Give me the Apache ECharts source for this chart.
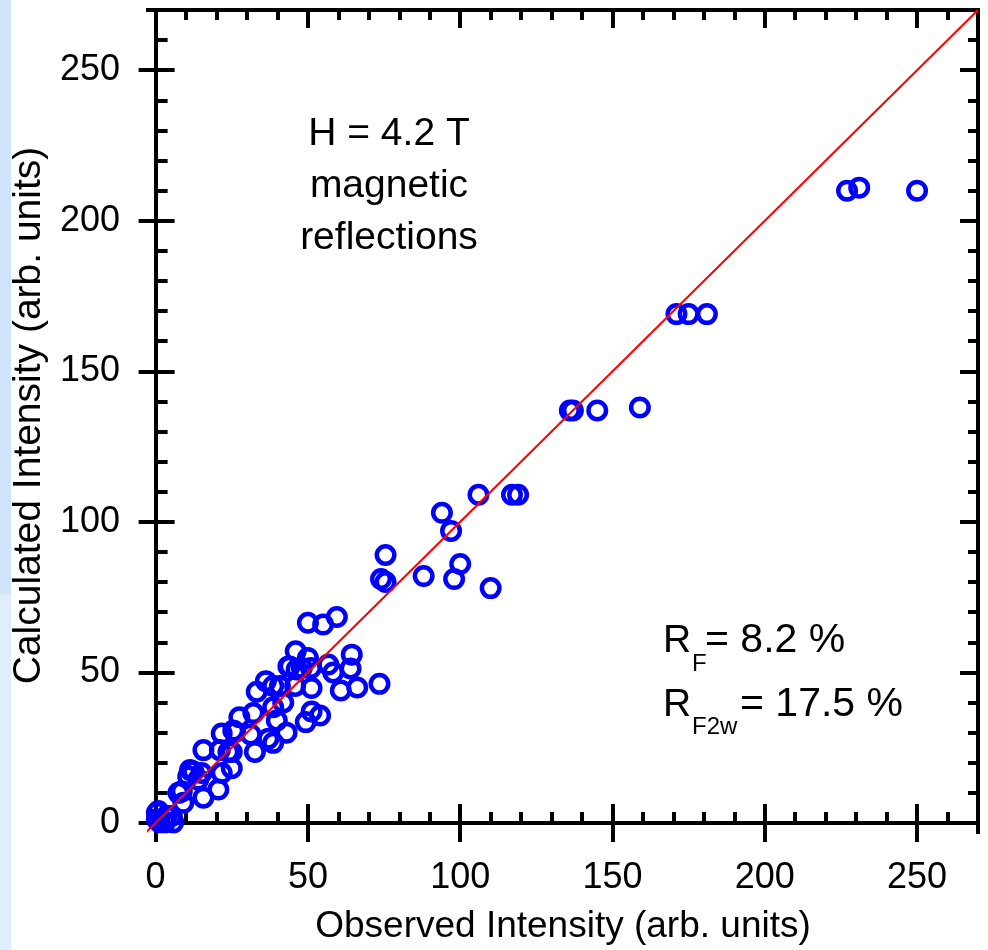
<!DOCTYPE html>
<html>
<head>
<meta charset="utf-8">
<script src="https://cdn.jsdelivr.net/npm/echarts@6/dist/echarts.min.js"></script>
<style>html,body{margin:0;padding:0;background:#fff;}#chart{width:988px;height:950px;}</style>
</head>
<body>
<div id="chart"></div>
<script>
// ---- data ----
const observed = [
  250, 231, 227,
  181, 175, 171,
  159, 145, 137, 136,
  119, 117, 106,
  94, 97, 75.5, 100, 88, 98, 74, 75.5, 110,
  59.5, 55, 50,
  46, 64.4, 50, 44, 48, 51, 56.7, 58.3, 64, 43.6, 46.3,
  73.5, 66.2, 60.8, 51.2, 45.8, 40.8, 36.2, 33.2, 38.6,
  41.9, 38.6, 32.1, 39.8, 49.3, 54, 51.2, 43, 37, 31.2, 32.6, 38.6, 27.5, 25.5, 21.7, 26.1,
  15.7, 21.1, 25, 23.9,
  12.4, 14, 21.7, 25, 11.3, 15.1,
  15.7, 20.6, 10.7, 7.5, 9.1, 8.6,
  0.9, 0.4, 5.3, 5.8, 3.1, 1.4, 3.6, 0.4
];
const calculated = [
  210, 211, 210,
  169, 169, 169,
  138, 137, 137, 137,
  109, 109, 109,
  103, 97, 89, 86, 82, 81, 81, 80, 78,
  68.4, 65.9, 66.5,
  57, 55.9, 54.8, 52, 51.5, 51.5, 52.6, 50, 51.3, 52, 51,
  46.2, 45, 44, 44.8, 45.5, 45.5, 47.1, 43.6, 45.5,
  40, 38.4, 36.5, 34, 33.5, 35.7, 37, 30, 28, 29.4, 23.6, 26.6, 35.1, 30.7, 29.7, 30.2,
  24.2, 24.2, 23.6, 23.6,
  17.1, 14.4, 16.6, 18.2, 17.6, 16.6,
  8.4, 11.1, 15.4, 10, 6.7, 10.5,
  4, 1.2, 2.3, 0.2, 0.2, 0.2, 2.3, 3.4
];
const refLine = [-3, 270];               // y = x reference line end values
const majorTicks = [0, 50, 100, 150, 200, 250];
const minorTicks = [10, 20, 30, 40, 60, 70, 80, 90, 110, 120, 130, 140, 160, 170, 180, 190, 210, 220, 230, 240, 260];
const X_RANGE = [-2.5, 270];
const Y_RANGE = [-3, 270];
const xTitle = 'Observed Intensity (arb. units)';
const yTitle = 'Calculated Intensity (arb. units)';
const noteLines = ['H = 4.2 T', 'magnetic', 'reflections'];
const rf = ['R', 'F', '= 8.2 %'];
const rf2w = ['R', 'F2w', '= 17.5 %'];

// ---- chart ----
const FONT = "'Liberation Sans', Arial, sans-serif";
const LW = 4;
const chart = echarts.init(document.getElementById('chart'), null, {renderer: 'canvas'});

function mkAxis(dim, o) {
  const range = dim === 'x' ? X_RANGE : Y_RANGE;
  return {
    type: 'value', min: range[0], max: range[1], position: o.position,
    name: o.name || '', nameLocation: 'middle', nameGap: o.nameGap || 0,
    nameTextStyle: Object.assign({fontFamily: FONT, fontSize: 37, color: '#000'}, o.nameStyle || {}),
    axisLine: {show: !!o.line, onZero: !!o.onZero, onZeroAxisIndex: 0,
               lineStyle: {color: '#000', width: LW, cap: 'square'}},
    axisTick: {show: true, customValues: o.ticks, inside: !!o.inside, length: o.len,
               lineStyle: {color: '#000', width: LW}},
    minorTick: {show: false},
    axisLabel: o.labels ? {show: true, customValues: majorTicks, margin: 28, fontFamily: FONT,
               fontSize: 36, color: '#000', formatter: v => String(v)} : {show: false},
    splitLine: {show: false}
  };
}

const option = {
  backgroundColor: '#ffffff',
  animation: false,
  grid: {left: 148, right: 10, top: 10, bottom: 107, containLabel: false},
  xAxis: [
    mkAxis('x', {position: 'bottom', onZero: true, line: true, ticks: majorTicks, inside: true, len: 19, labels: true,
                 name: xTitle, nameGap: 76}),
    mkAxis('x', {position: 'bottom', onZero: true, ticks: majorTicks, inside: false, len: 19}),
    mkAxis('x', {position: 'bottom', onZero: true, ticks: minorTicks, inside: true, len: 11}),
    mkAxis('x', {position: 'top', onZero: false, line: true, ticks: majorTicks, inside: true, len: 18}),
    mkAxis('x', {position: 'top', onZero: false, ticks: minorTicks, inside: true, len: 10})
  ],
  yAxis: [
    mkAxis('y', {position: 'left', onZero: true, line: true, ticks: majorTicks, inside: true, len: 19, labels: true,
                 name: yTitle, nameGap: 92, nameStyle: {fontSize: 39, padding: [0, 0, 0, 11]}}),
    mkAxis('y', {position: 'left', onZero: true, ticks: majorTicks, inside: false, len: 17}),
    mkAxis('y', {position: 'left', onZero: true, ticks: minorTicks, inside: true, len: 12}),
    mkAxis('y', {position: 'right', onZero: false, line: true, ticks: majorTicks, inside: true, len: 18}),
    mkAxis('y', {position: 'right', onZero: false, ticks: minorTicks, inside: true, len: 10})
  ],
  series: [
    {
      type: 'scatter', xAxisIndex: 0, yAxisIndex: 0,
      data: observed.map((x, i) => [x, calculated[i]]),
      symbol: 'circle', symbolSize: 17.5,
      itemStyle: {color: 'rgba(255,255,255,0)', borderColor: '#0000ff', borderWidth: 4.5, opacity: 1},
      emphasis: {disabled: true}, z: 2
    },
    {
      type: 'line', xAxisIndex: 0, yAxisIndex: 0,
      data: refLine.map(v => [v, v]),
      symbol: 'none', clip: true,
      lineStyle: {color: '#ff0000', width: 2},
      z: 3
    }
  ],
  graphic: [
    {type: 'rect', left: 0, top: 0, shape: {width: 11, height: 594}, style: {fill: '#cfe3fa'}, silent: true, z: -10},
    {type: 'rect', left: 0, top: 594, shape: {width: 11, height: 356}, style: {fill: '#e0edfc'}, silent: true, z: -10},
    {type: 'text', x: 389, y: 186, style: {text: noteLines.join('\n'), font: '39px ' + FONT, lineHeight: 52,
      align: 'center', verticalAlign: 'middle', fill: '#000'}},
    {type: 'text', x: 663, y: 641, style: {text: rf[0], font: '39px ' + FONT, align: 'left', verticalAlign: 'middle', fill: '#000'}},
    {type: 'text', x: 692, y: 664, style: {text: rf[1], font: '24px ' + FONT, align: 'left', verticalAlign: 'middle', fill: '#000'}},
    {type: 'text', x: 705, y: 641, style: {text: rf[2], font: '41px ' + FONT, align: 'left', verticalAlign: 'middle', fill: '#000'}},
    {type: 'text', x: 663, y: 705, style: {text: rf2w[0], font: '39px ' + FONT, align: 'left', verticalAlign: 'middle', fill: '#000'}},
    {type: 'text', x: 692, y: 727, style: {text: rf2w[1], font: '24px ' + FONT, align: 'left', verticalAlign: 'middle', fill: '#000'}},
    {type: 'text', x: 740, y: 705, style: {text: rf2w[2], font: '41px ' + FONT, align: 'left', verticalAlign: 'middle', fill: '#000'}}
  ]
};
chart.setOption(option);
</script>
</body>
</html>
